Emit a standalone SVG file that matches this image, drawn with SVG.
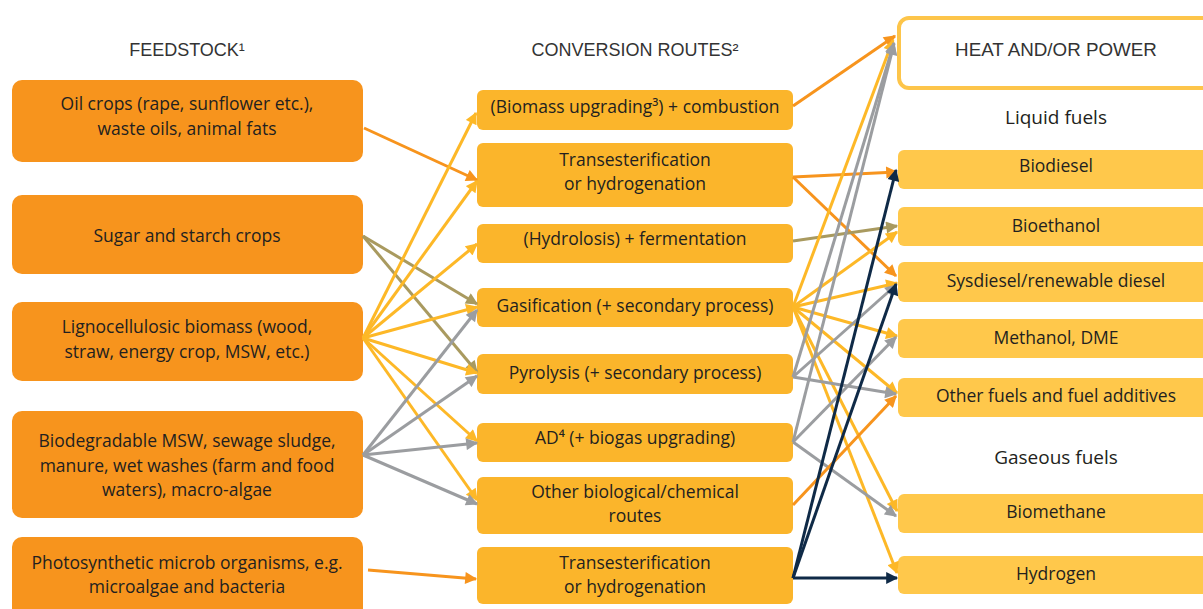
<svg xmlns="http://www.w3.org/2000/svg" width="1203" height="609" viewBox="0 0 1203 609">
<style>
  text { font-family: "Open Sans", "Liberation Sans", Arial, sans-serif; fill: #231F20; text-anchor: middle; }
  .hdr { font-family: "Liberation Sans", Arial, sans-serif; font-size: 18px; fill: #333; }
  .hp { font-size: 18.8px; }
  .t { font-size: 17.5px; }
  .lbl { font-size: 19px; }
  .feed { fill: #F7941D; }
  .route { fill: #FBB52B; }
  .prod { fill: #FFC84B; }
  .c { fill: none; stroke-width: 3; }
  .or { stroke: #F7941D; marker-end: url(#mOr); }
  .ye { stroke: #FDB827; marker-end: url(#mYe); }
  .kh { stroke: #A99A5F; marker-end: url(#mKh); }
  .gr { stroke: #9B9DA0; marker-end: url(#mGr); }
  .nv { stroke: #0F2A47; marker-end: url(#mNv); }
</style>
<defs>
  <marker id="mOr" viewBox="0 0 10 10" refX="9" refY="5" markerWidth="4.5" markerHeight="4" orient="auto"><path d="M0,0 L10,5 L0,10 z" fill="#F7941D"/></marker>
  <marker id="mYe" viewBox="0 0 10 10" refX="9" refY="5" markerWidth="4.5" markerHeight="4" orient="auto"><path d="M0,0 L10,5 L0,10 z" fill="#FDB827"/></marker>
  <marker id="mKh" viewBox="0 0 10 10" refX="9" refY="5" markerWidth="4.5" markerHeight="4" orient="auto"><path d="M0,0 L10,5 L0,10 z" fill="#A99A5F"/></marker>
  <marker id="mGr" viewBox="0 0 10 10" refX="9" refY="5" markerWidth="4.5" markerHeight="4" orient="auto"><path d="M0,0 L10,5 L0,10 z" fill="#9B9DA0"/></marker>
  <marker id="mNv" viewBox="0 0 10 10" refX="9" refY="5" markerWidth="4.5" markerHeight="4" orient="auto"><path d="M0,0 L10,5 L0,10 z" fill="#0F2A47"/></marker>
</defs>
<rect width="1203" height="609" fill="#FFFFFF"/>

<g id="headers">
  <text class="hdr" x="187" y="56">FEEDSTOCK¹</text>
  <text class="hdr" x="635" y="56">CONVERSION ROUTES²</text>
</g>

<!-- Feedstock -->
<g id="feed-oil"><rect class="feed" x="12" y="80" width="351" height="82" rx="10"/>
  <text class="t" x="187" y="110">Oil crops (rape, sunflower etc.),</text>
  <text class="t" x="187" y="135">waste oils, animal fats</text></g>
<g id="feed-sugar"><rect class="feed" x="12" y="195" width="351" height="79" rx="10"/>
  <text class="t" x="187" y="242">Sugar and starch crops</text></g>
<g id="feed-ligno"><rect class="feed" x="12" y="302" width="351" height="79" rx="10"/>
  <text class="t" x="187" y="333">Lignocellulosic biomass (wood,</text>
  <text class="t" x="187" y="358">straw, energy crop, MSW, etc.)</text></g>
<g id="feed-biodeg"><rect class="feed" x="12" y="411" width="351" height="107" rx="10"/>
  <text class="t" x="187" y="447">Biodegradable MSW, sewage sludge,</text>
  <text class="t" x="187" y="472">manure, wet washes (farm and food</text>
  <text class="t" x="187" y="496">waters), macro-algae</text></g>
<g id="feed-photo"><rect class="feed" x="12" y="537" width="351" height="90" rx="10"/>
  <text class="t" x="187" y="569">Photosynthetic microb organisms, e.g.</text>
  <text class="t" x="187" y="593">microalgae and bacteria</text></g>

<!-- Conversion routes -->
<g id="route-upgrading"><rect class="route" x="477" y="90" width="316" height="40" rx="6"/>
  <text class="t" x="635" y="113">(Biomass upgrading³) + combustion</text></g>
<g id="route-trans1"><rect class="route" x="477" y="143" width="316" height="64" rx="6"/>
  <text class="t" x="635" y="166">Transesterification</text>
  <text class="t" x="635" y="190">or hydrogenation</text></g>
<g id="route-ferm"><rect class="route" x="477" y="224" width="316" height="39" rx="6"/>
  <text class="t" x="635" y="245">(Hydrolosis) + fermentation</text></g>
<g id="route-gasif"><rect class="route" x="477" y="288" width="316" height="39" rx="6"/>
  <text class="t" x="635" y="312">Gasification (+ secondary process)</text></g>
<g id="route-pyro"><rect class="route" x="477" y="354" width="316" height="40" rx="6"/>
  <text class="t" x="635" y="379">Pyrolysis (+ secondary process)</text></g>
<g id="route-ad"><rect class="route" x="477" y="423" width="316" height="39" rx="6"/>
  <text class="t" x="635" y="444">AD⁴ (+ biogas upgrading)</text></g>
<g id="route-other"><rect class="route" x="477" y="477" width="316" height="57" rx="6"/>
  <text class="t" x="635" y="498">Other biological/chemical</text>
  <text class="t" x="635" y="522">routes</text></g>
<g id="route-trans2"><rect class="route" x="477" y="547" width="316" height="57" rx="6"/>
  <text class="t" x="635" y="569">Transesterification</text>
  <text class="t" x="635" y="593">or hydrogenation</text></g>

<!-- Products -->
<g id="prod-heat"><rect x="899" y="18" width="320" height="70" rx="10" fill="#FFFFFF" stroke="#FDC54A" stroke-width="4"/>
  <text class="hdr hp" x="1056" y="56">HEAT AND/OR POWER</text></g>
<g id="label-liquid"><text class="lbl" x="1056" y="124">Liquid fuels</text></g>
<g id="prod-biodiesel"><rect class="prod" x="898" y="150" width="320" height="39" rx="6"/>
  <text class="t" x="1056" y="172">Biodiesel</text></g>
<g id="prod-bioethanol"><rect class="prod" x="898" y="207" width="320" height="39" rx="6"/>
  <text class="t" x="1056" y="232">Bioethanol</text></g>
<g id="prod-sysdiesel"><rect class="prod" x="898" y="262" width="320" height="40" rx="6"/>
  <text class="t" x="1056" y="287">Sysdiesel/renewable diesel</text></g>
<g id="prod-methanol"><rect class="prod" x="898" y="319" width="320" height="39" rx="6"/>
  <text class="t" x="1056" y="344">Methanol, DME</text></g>
<g id="prod-otherfuels"><rect class="prod" x="898" y="378" width="320" height="39" rx="6"/>
  <text class="t" x="1056" y="402">Other fuels and fuel additives</text></g>
<g id="label-gaseous"><text class="lbl" x="1056" y="464">Gaseous fuels</text></g>
<g id="prod-biomethane"><rect class="prod" x="898" y="494" width="320" height="39" rx="6"/>
  <text class="t" x="1056" y="518">Biomethane</text></g>
<g id="prod-hydrogen"><rect class="prod" x="898" y="556" width="320" height="38" rx="6"/>
  <text class="t" x="1056" y="580">Hydrogen</text></g>

<g id="connectors">
  <!-- feedstock to routes -->
  <line class="c or" x1="364" y1="128" x2="477" y2="180"/>
  <line class="c or" x1="368" y1="570" x2="476" y2="579"/>
  <line class="c kh" x1="363" y1="236" x2="477" y2="304"/>
  <line class="c kh" x1="363" y1="236" x2="477" y2="372"/>
  <line class="c ye" x1="363" y1="338" x2="476" y2="113"/>
  <line class="c ye" x1="363" y1="338" x2="477" y2="181"/>
  <line class="c ye" x1="363" y1="338" x2="477" y2="244"/>
  <line class="c ye" x1="363" y1="338" x2="477" y2="307"/>
  <line class="c ye" x1="363" y1="338" x2="477" y2="373"/>
  <line class="c ye" x1="363" y1="338" x2="477" y2="441"/>
  <line class="c ye" x1="363" y1="338" x2="477" y2="500"/>
  <line class="c gr" x1="363" y1="455" x2="477" y2="310"/>
  <line class="c gr" x1="363" y1="455" x2="477" y2="376"/>
  <line class="c gr" x1="363" y1="455" x2="477" y2="443"/>
  <line class="c gr" x1="363" y1="455" x2="477" y2="504"/>
  <!-- routes to products -->
  <line class="c or" x1="793" y1="106" x2="895" y2="36"/>
  <line class="c or" x1="793" y1="177" x2="897" y2="172"/>
  <line class="c or" x1="793" y1="177" x2="896" y2="276"/>
  <line class="c kh" x1="793" y1="241" x2="897" y2="226"/>
  <line class="c ye" x1="793" y1="307" x2="893" y2="40"/>
  <line class="c ye" x1="793" y1="307" x2="897" y2="232"/>
  <line class="c ye" x1="793" y1="307" x2="897" y2="283"/>
  <line class="c ye" x1="793" y1="307" x2="897" y2="336"/>
  <line class="c ye" x1="793" y1="307" x2="897" y2="393"/>
  <line class="c ye" x1="793" y1="307" x2="897" y2="511"/>
  <line class="c ye" x1="793" y1="307" x2="897" y2="573"/>
  <line class="c gr" x1="793" y1="377" x2="894" y2="43"/>
  <line class="c gr" x1="793" y1="377" x2="896" y2="285"/>
  <line class="c gr" x1="793" y1="377" x2="896" y2="394"/>
  <line class="c gr" x1="793" y1="442" x2="894" y2="44"/>
  <line class="c gr" x1="793" y1="442" x2="896" y2="337"/>
  <line class="c gr" x1="793" y1="442" x2="896" y2="516"/>
  <line class="c or" x1="793" y1="505" x2="896" y2="396"/>
  <line class="c nv" x1="793" y1="578" x2="896" y2="170"/>
  <line class="c nv" x1="793" y1="578" x2="896" y2="284"/>
  <line class="c nv" x1="793" y1="578" x2="897" y2="578"/>
</g>
</svg>
